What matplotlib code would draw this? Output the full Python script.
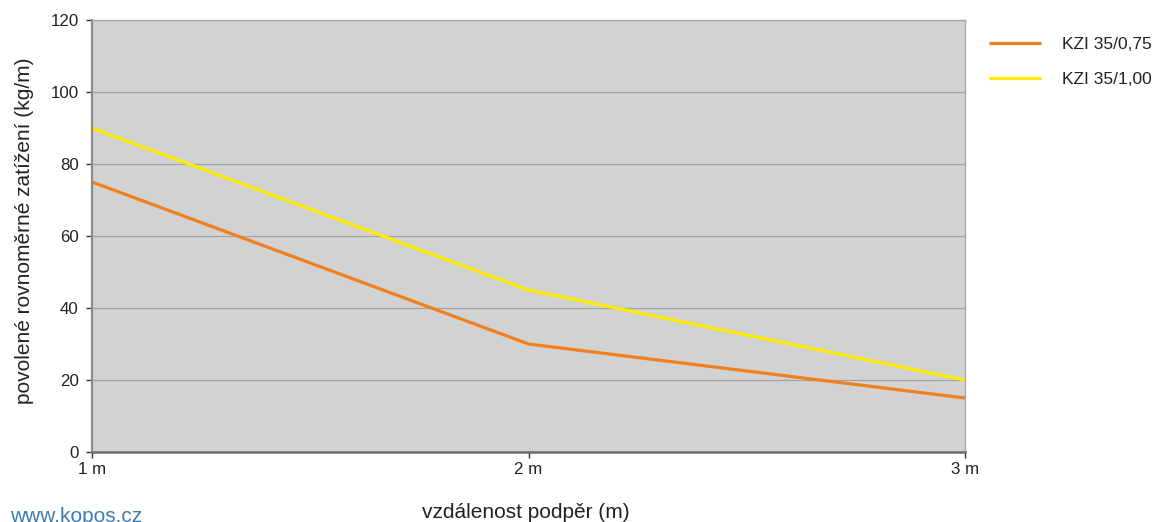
import matplotlib
matplotlib.use("Agg")
import matplotlib.pyplot as plt

plt.rcParams['font.family'] = ['Liberation Sans', 'DejaVu Sans']

# data
spans = [1, 2, 3]
span_labels = ["1 m", "2 m", "3 m"]
kzi_075 = [75, 30, 15]
kzi_100 = [90, 45, 20]
y_ticks = [0, 20, 40, 60, 80, 100, 120]

fig = plt.figure(figsize=(11.59, 5.22), dpi=100)
ax = fig.add_axes([0.0794, 0.1341, 0.7532, 0.8276])
ax.set_facecolor('#d1d3d3')

ax.plot(spans, kzi_075, color='#f07f1d', lw=2.3, label='KZI 35/0,75', solid_capstyle='butt')
ax.plot(spans, kzi_100, color='#ffec00', lw=2.3, label='KZI 35/1,00', solid_capstyle='butt')

ax.set_xlim(1, 3)
ax.set_ylim(0, 120)
ax.set_xticks(spans)
ax.set_xticklabels(span_labels)
ax.set_yticks(y_ticks)
ax.yaxis.grid(True, color='#a2a4a4', lw=0.9)
ax.set_axisbelow(True)

for side in ['top', 'right']:
    ax.spines[side].set_color('#a8aaaa')
    ax.spines[side].set_linewidth(1.0)
ax.spines['left'].set_color('#8a8c8c')
ax.spines['left'].set_linewidth(1.6)
ax.spines['bottom'].set_color('#6c6e6e')
ax.spines['bottom'].set_linewidth(1.8)

ax.tick_params(axis='y', length=4.5, width=1, color='#333333', labelsize=12.2, labelcolor='#222222', pad=5)
ax.tick_params(axis='x', length=4.5, width=1, color='#333333', labelsize=12.2, labelcolor='#222222', pad=3)

fig.text(25 / 1159, 1 - 231 / 522, 'povolené rovnoměrné zatížení (kg/m)', fontsize=15,
         color='#222222', rotation=90, ha='center', va='center')
fig.text(526 / 1159, 1 - 512 / 522, 'vzdálenost podpěr (m)', fontsize=15, color='#222222',
         ha='center', va='center')
fig.text(10 / 1159, 1 - 516 / 522, 'www.kopos.cz', fontsize=15, color='#3a7cb2',
         ha='left', va='center')

fig.legend(loc='upper left', bbox_to_anchor=(980 / 1159, 1 - 28 / 522), frameon=False,
           fontsize=12.5, handlelength=3.0, handletextpad=1.2, labelspacing=1.15,
           labelcolor='#222222', borderpad=0)

fig.savefig('out.png', dpi=100)
